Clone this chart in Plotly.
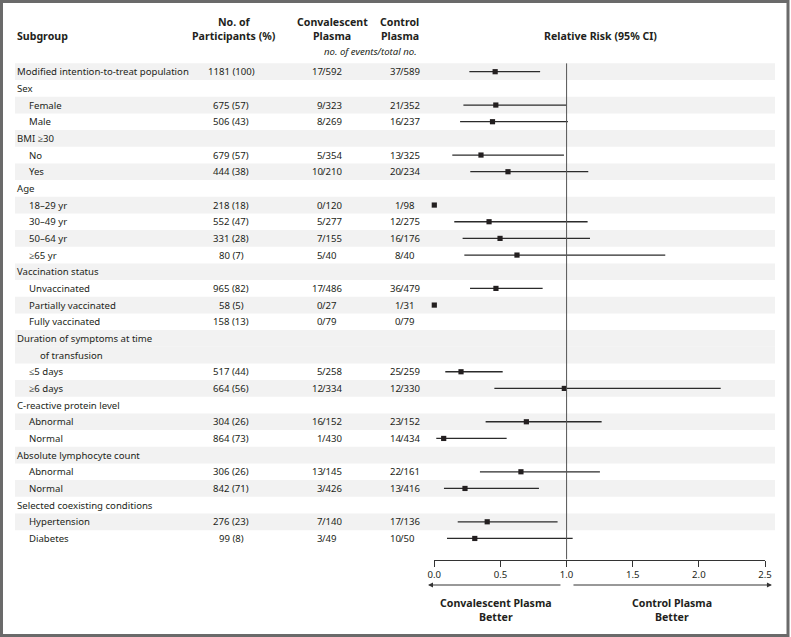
import plotly.graph_objects as go

# ---------------- data ----------------
labels = ["Modified intention-to-treat population", "Sex", "Female", "Male",
          "BMI ≥30", "No", "Yes", "Age", "18–29 yr", "30–49 yr", "50–64 yr", "≥65 yr",
          "Vaccination status", "Unvaccinated", "Partially vaccinated", "Fully vaccinated",
          "Duration of symptoms at time", "of transfusion", "≤5 days", "≥6 days",
          "C-reactive protein level", "Abnormal", "Normal",
          "Absolute lymphocyte count", "Abnormal", "Normal",
          "Selected coexisting conditions", "Hypertension", "Diabetes"]
indent = [0, 0, 1, 1, 0, 1, 1, 0, 1, 1, 1, 1, 0, 1, 1, 1, 0, 2, 1, 1, 0, 1, 1, 0, 1, 1, 0, 1, 1]
participants = ["1181 (100)", "", "675 (57)", "506 (43)", "", "679 (57)", "444 (38)", "",
                "218 (18)", "552 (47)", "331 (28)", "80 (7)", "", "965 (82)", "58 (5)", "158 (13)",
                "", "", "517 (44)", "664 (56)", "", "304 (26)", "864 (73)", "",
                "306 (26)", "842 (71)", "", "276 (23)", "99 (8)"]
conv_events = ["17/592", "", "9/323", "8/269", "", "5/354", "10/210", "", "0/120", "5/277",
               "7/155", "5/40", "", "17/486", "0/27", "0/79", "", "", "5/258", "12/334", "",
               "16/152", "1/430", "", "13/145", "3/426", "", "7/140", "3/49"]
ctrl_events = ["37/589", "", "21/352", "16/237", "", "13/325", "20/234", "", "1/98", "12/275",
               "16/176", "8/40", "", "36/479", "1/31", "0/79", "", "", "25/259", "12/330", "",
               "23/152", "14/434", "", "22/161", "13/416", "", "17/136", "10/50"]
rr = [0.46, None, 0.465, 0.44, None, 0.353, 0.557, None, 0.0, 0.414, 0.497, 0.625, None,
      0.466, 0.0, None, None, None, 0.202, 0.983, None, 0.696, 0.071, None, 0.655, 0.232,
      None, 0.40, 0.306]
ci_low = [0.265, None, 0.22, 0.195, None, 0.136, 0.272, None, None, 0.151, 0.214, 0.227, None,
          0.27, None, None, None, None, 0.083, 0.454, None, 0.388, 0.015, None, 0.345, 0.073,
          None, 0.177, 0.096]
ci_high = [0.80, None, 1.0, 1.01, None, 0.98, 1.164, None, None, 1.159, 1.177, 1.746, None,
           0.819, None, None, None, None, 0.517, 2.165, None, 1.265, 0.547, None, 1.252, 0.791,
           None, 0.932, 1.046]
shaded = [1, 0, 1, 0, 1, 0, 1, 0, 1, 0, 1, 0, 1, 0, 1, 0, 1, 1, 0, 1, 0, 1, 0, 1, 0, 1, 0, 1, 0]
x_ticks = [0.0, 0.5, 1.0, 1.5, 2.0, 2.5]
x_ticklabels = ["0.0", "0.5", "1.0", "1.5", "2.0", "2.5"]

# ---------------- layout constants ----------------
W, H = 791, 637
ROW0, DY = 71.7, 16.67
AXIS_PX = 559.5
TXT = "#231f20"
FONT = "Noto Sans"
FS = 9.6
FSB = 10.6

def px(p):
    return p / W

def py(p):
    return 1 - p / H

def row_of(p):
    return (p - ROW0) / DY

fig = go.Figure()

# forest plot points with CIs
xs, ys, ep, em = [], [], [], []
for i, v in enumerate(rr):
    if v is None:
        continue
    xs.append(v)
    ys.append(i)
    ep.append((ci_high[i] - v) if ci_high[i] is not None else 0)
    em.append((v - ci_low[i]) if ci_low[i] is not None else 0)

fig.add_trace(go.Scatter(
    x=xs, y=ys, mode="markers",
    marker=dict(symbol="square", size=5.2, color=TXT),
    error_x=dict(type="data", symmetric=False, array=ep, arrayminus=em,
                 width=0, thickness=1.3, color="#2b2b2b"),
    cliponaxis=False, showlegend=False, hoverinfo="skip"))

shapes = []
# shaded bands
for i, s in enumerate(shaded):
    if s:
        shapes.append(dict(type="rect", xref="paper", yref="y", x0=px(15), x1=px(775),
                           y0=i - 0.5, y1=i + 0.5, fillcolor="#f2f2f2",
                           line=dict(width=0), layer="below"))
# reference line at 1.0
shapes.append(dict(type="line", xref="x", yref="y", x0=1, x1=1, y0=-0.5,
                   y1=row_of(AXIS_PX), line=dict(color="#555555", width=1)))
# outer border
shapes.append(dict(type="rect", xref="paper", yref="paper", x0=px(1.5), x1=px(788),
                   y0=py(635.5), y1=py(1.5), line=dict(color="#6a6a6a", width=3)))

ann = []

def add_text(text, x, y, xanchor="left", yref="y", bold=False, italic=False, xshift=0):
    size = FSB if bold else FS
    if bold:
        text = "<b>" + text + "</b>"
    if italic:
        text = "<i>" + text + "</i>"
    ann.append(dict(text=text, x=px(x), xref="paper", y=y, yref=yref, xanchor=xanchor,
                    yanchor="middle", showarrow=False, borderpad=0, borderwidth=0,
                    xshift=xshift, font=dict(family=FONT, size=size, color=TXT)))

indent_px = [16.5, 28.5, 40]
for i, lab in enumerate(labels):
    add_text(lab, indent_px[indent[i]], i)
    if participants[i]:
        add_text(participants[i], 231, i, xanchor="center")
    for col_slash, val in ((322, conv_events[i]), (400.5, ctrl_events[i])):
        if val:
            num, den = val.split("/")
            add_text(num, col_slash, i, xanchor="right", xshift=0.5)
            add_text("/" + den, col_slash, i, xanchor="left", xshift=-0.5)

# headers
add_text("Subgroup", 17, row_of(36), bold=True)
add_text("No. of", 234, row_of(22), xanchor="center", bold=True)
add_text("Participants (%)", 234, row_of(36), xanchor="center", bold=True)
add_text("Convalescent", 332, row_of(22), xanchor="center", bold=True)
add_text("Plasma", 332, row_of(36), xanchor="center", bold=True)
add_text("Control", 400, row_of(22), xanchor="center", bold=True)
add_text("Plasma", 400, row_of(36), xanchor="center", bold=True)
add_text("no. of events/total no.", 370, row_of(51), xanchor="center", italic=True)
add_text("Relative Risk (95% CI)", 600, row_of(36), xanchor="center", bold=True)

# bottom labels
add_text("Convalescent Plasma", 496, py(603), xanchor="center", yref="paper", bold=True)
add_text("Better", 496, py(617), xanchor="center", yref="paper", bold=True)
add_text("Control Plasma", 672, py(603), xanchor="center", yref="paper", bold=True)
add_text("Better", 672, py(617), xanchor="center", yref="paper", bold=True)

# arrows
def xval(p):
    return (p - 434.3) / 132.3

for head, tail in ((428, 562), (772, 572)):
    ann.append(dict(text="", x=xval(head), xref="x", y=py(585), yref="paper",
                    ax=xval(tail), axref="x", ay=0, ayref="pixel",
                    showarrow=True, arrowhead=2, arrowsize=1, arrowwidth=1,
                    arrowcolor="#333333", standoff=0))

fig.update_layout(
    width=W, height=H, autosize=False,
    margin=dict(l=0, r=0, t=0, b=0, pad=0, autoexpand=False),
    paper_bgcolor="white", plot_bgcolor="rgba(0,0,0,0)",
    shapes=shapes, annotations=ann, showlegend=False,
    xaxis=dict(domain=[px(434.3), px(765)], range=[0, 2.5], tickvals=x_ticks,
               ticktext=x_ticklabels, ticks="outside", ticklen=6, tickcolor="#333333",
               showline=True, linecolor="#333333", linewidth=1, showgrid=False,
               zeroline=False, automargin=False,
               tickfont=dict(family=FONT, size=FS, color=TXT)),
    yaxis=dict(domain=[1 - AXIS_PX / H, 1], range=[row_of(AXIS_PX), row_of(0)],
               visible=False, showgrid=False, zeroline=False, automargin=False),
)

fig.write_html(
    "out.html",
    config={"responsive": False, "displayModeBar": False},
    post_script="document.body.style.margin='0';document.body.style.overflow='hidden';"
                "document.documentElement.style.overflow='hidden';",
)
